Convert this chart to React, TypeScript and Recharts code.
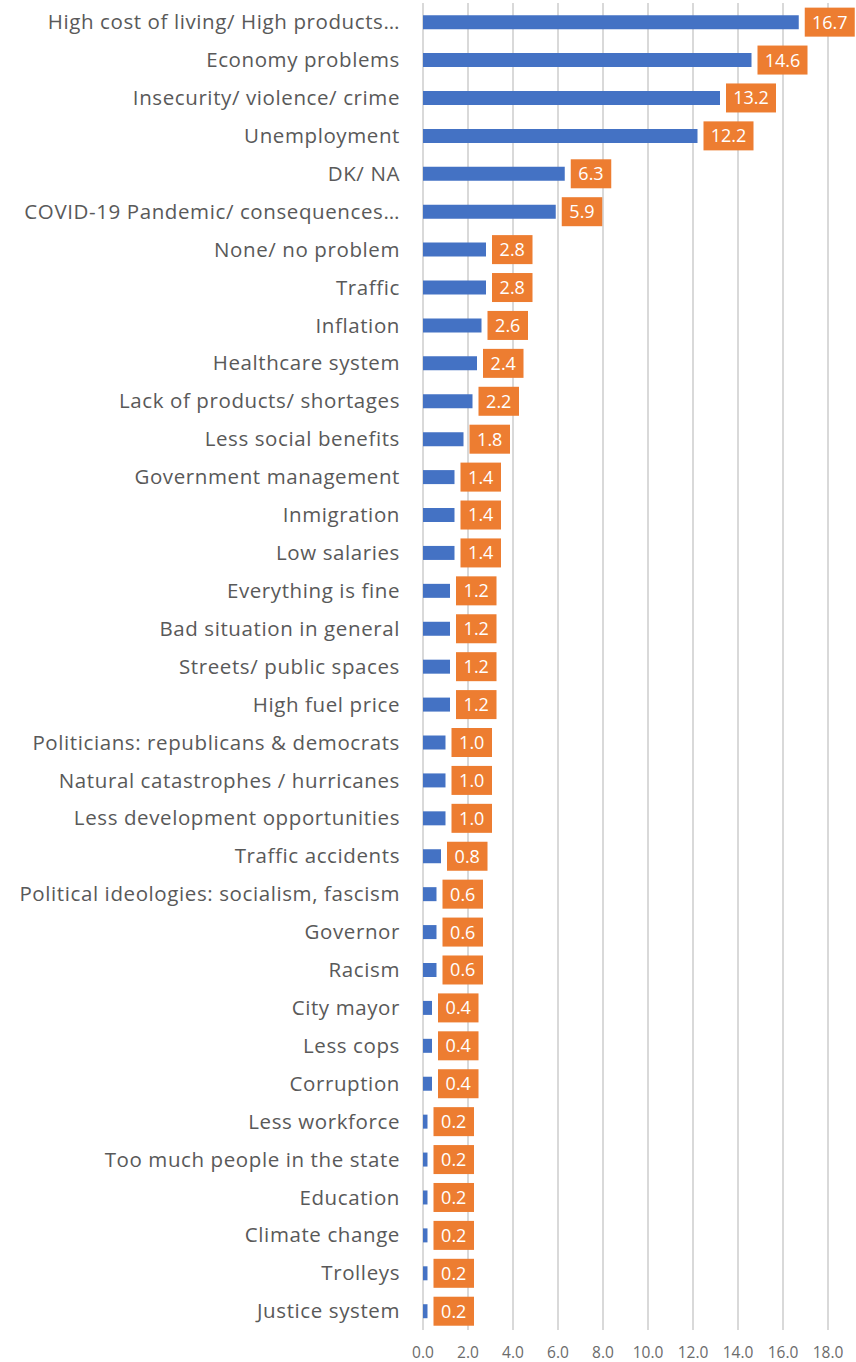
import { BarChart, Bar, XAxis, YAxis, CartesianGrid, LabelList } from 'recharts';

const categories = [
  'High cost of living/ High products…',
  'Economy problems',
  'Insecurity/ violence/ crime',
  'Unemployment',
  'DK/ NA',
  'COVID-19 Pandemic/ consequences…',
  'None/ no problem',
  'Traffic',
  'Inflation',
  'Healthcare system',
  'Lack of products/ shortages',
  'Less social benefits',
  'Government management',
  'Inmigration',
  'Low salaries',
  'Everything is fine',
  'Bad situation in general',
  'Streets/ public spaces',
  'High fuel price',
  'Politicians: republicans & democrats',
  'Natural catastrophes / hurricanes',
  'Less development opportunities',
  'Traffic accidents',
  'Political ideologies: socialism, fascism',
  'Governor',
  'Racism',
  'City mayor',
  'Less cops',
  'Corruption',
  'Less workforce',
  'Too much people in the state',
  'Education',
  'Climate change',
  'Trolleys',
  'Justice system',
];

const values = [
  16.7, 14.6, 13.2, 12.2, 6.3, 5.9, 2.8, 2.8, 2.6, 2.4, 2.2, 1.8, 1.4, 1.4, 1.4,
  1.2, 1.2, 1.2, 1.2, 1.0, 1.0, 1.0, 0.8, 0.6, 0.6, 0.6, 0.4, 0.4, 0.4, 0.2,
  0.2, 0.2, 0.2, 0.2, 0.2,
];

const xTicks = [0, 2, 4, 6, 8, 10, 12, 14, 16, 18];

const data = categories.map((name, i) => ({ name, value: values[i] }));

const FONT = '"Open Sans", Lato, sans-serif';

function ValueBox(props: any) {
  const { x, y, width, height, value } = props;
  const text = Number(value).toFixed(1);
  const boxW = 12 + 9.5 * text.length;
  const boxH = 29;
  const bx = Number(x) + Number(width) + 6;
  const cy = Number(y) + Number(height) / 2;
  return (
    <g>
      <rect x={bx} y={cy - boxH / 2} width={boxW} height={boxH} fill="#ED7D31" />
      <text
        x={bx + boxW / 2}
        y={cy}
        dy="0.36em"
        textAnchor="middle"
        fill="#ffffff"
        fontSize={18}
        fontFamily={FONT}
      >
        {text}
      </text>
    </g>
  );
}

export default function App() {
  return (
    <div style={{ position: 'absolute', left: 0, top: 0, background: '#fff' }}>
      <BarChart
        width={856}
        height={1362}
        data={data}
        layout="vertical"
        margin={{ top: 3, right: 28, bottom: 0, left: 0 }}
        barCategoryGap="32%"
      >
        <CartesianGrid horizontal={false} stroke="#d9d9d9" strokeWidth={2} />
        <XAxis
          type="number"
          domain={[0, 18]}
          ticks={xTicks}
          tickFormatter={(v: number) => v.toFixed(1)}
          axisLine={false}
          tickLine={false}
          tickSize={0}
          tickMargin={17}
          height={32}
          tick={{ fill: '#6b6b6b', fontSize: 15.5, fontFamily: FONT }}
        />
        <YAxis
          type="category"
          dataKey="name"
          width={423}
          axisLine={false}
          tickLine={false}
          tickSize={0}
          tickMargin={23}
          interval={0}
          tick={{ fill: '#595959', fontSize: 20.5, fontFamily: FONT, letterSpacing: 0.6 }}
        />
        <Bar dataKey="value" fill="#4472C4" isAnimationActive={false}>
          <LabelList dataKey="value" content={ValueBox} />
        </Bar>
      </BarChart>
    </div>
  );
}
